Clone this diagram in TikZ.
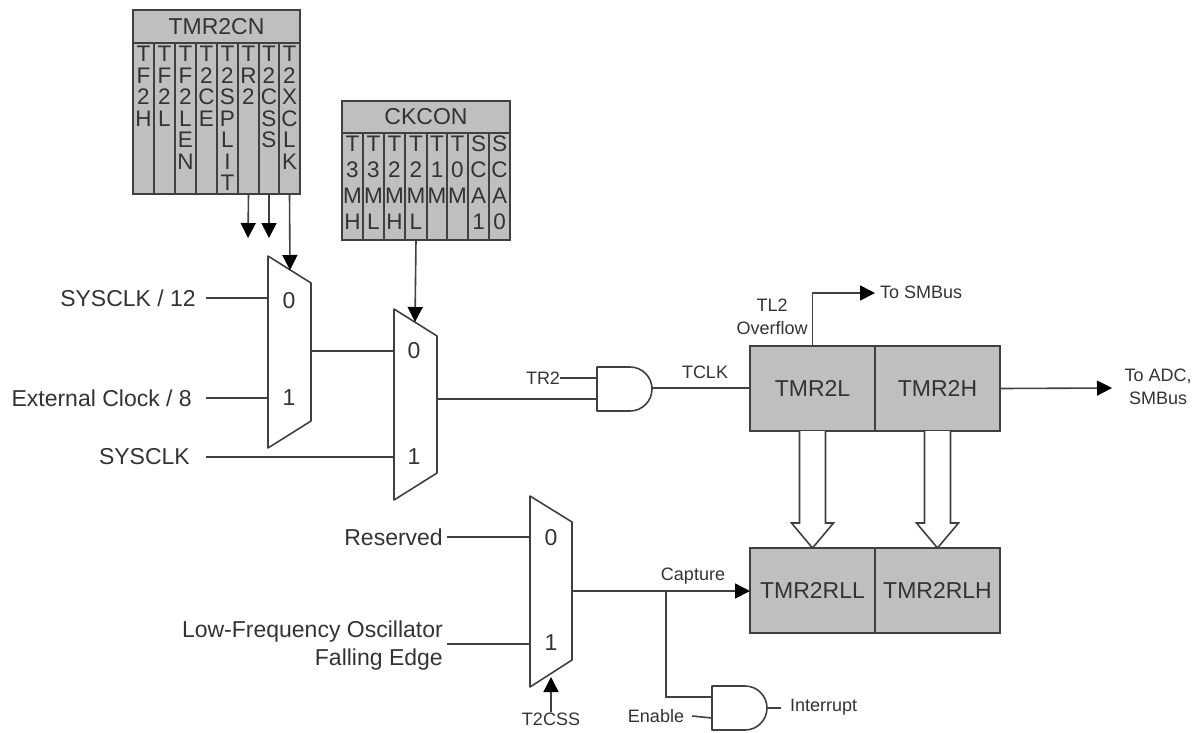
\documentclass[tikz,border=0pt]{standalone}
\usepackage{fontspec}
\setmainfont{Liberation Sans}
\usetikzlibrary{arrows.meta,calc}
\definecolor{ln}{HTML}{404040}
\definecolor{tx}{HTML}{333333}
\definecolor{bx}{HTML}{BFBFBF}
\tikzset{
  wire/.style={draw=ln,line width=1.6pt},
  arr/.style={wire,-{Triangle[length=15pt,width=15pt,color=black]}},
  shapeline/.style={draw=ln,line width=1.6pt,line join=round},
  regbox/.style={draw=ln,line width=1.6pt,fill=bx,text=tx,inner sep=0pt,outer sep=0pt},
  big/.style={font=\fontsize{23}{26}\selectfont,text=tx,inner sep=0pt},
  small/.style={font=\fontsize{18}{23}\selectfont,text=tx,inner sep=0pt,align=center},
  hollow/.style={draw=ln,line width=1.6pt,fill=white,line join=miter},
}
% \regcol{name}{x1}{x2}{ytop}{ybot}{lineskip}{letters}
\newcommand{\regcol}[7]{%
  \node[regbox,anchor=north west,minimum width=#3-#2,minimum height=#5-#4] (#1) at (#2,#4) {};
  \node[big,anchor=north,align=center,font=\fontsize{22.5}{#6}\selectfont] (#1t) at ($(#1.north)+(0,3)$) {#7};
}
\begin{document}
\begin{tikzpicture}[x=1pt,y=-1pt]
\useasboundingbox (0,0) rectangle (1193,732);
% TMR2CN
\node[regbox,big,anchor=north west,minimum width=167pt,minimum height=33pt] (tcn) at (133,10) {TMR2CN};
\regcol{a1}{133}{154}{43}{194}{21.5}{T\\F\\2\\H}
\regcol{a2}{154}{175}{43}{194}{21.5}{T\\F\\2\\L}
\regcol{a3}{175}{196}{43}{194}{21.5}{T\\F\\2\\L\\E\\N}
\regcol{a4}{196}{217}{43}{194}{21.5}{T\\2\\C\\E}
\regcol{a5}{217}{238}{43}{194}{21.5}{T\\2\\S\\P\\L\\I\\T}
\regcol{a6}{238}{259}{43}{194}{21.5}{T\\R\\2}
\regcol{a7}{259}{279}{43}{194}{21.5}{T\\2\\C\\S\\S}
\regcol{a8}{279}{300}{43}{194}{21.5}{T\\2\\X\\C\\L\\K}
% CKCON
\node[regbox,big,anchor=north west,minimum width=168pt,minimum height=32pt] (ck) at (342,101) {CKCON};
\regcol{b1}{342}{363}{133}{240}{26}{T\\3\\M\\H}
\regcol{b2}{363}{384}{133}{240}{26}{T\\3\\M\\L}
\regcol{b3}{384}{405}{133}{240}{26}{T\\2\\M\\H}
\regcol{b4}{405}{427}{133}{240}{26}{T\\2\\M\\L}
\regcol{b5}{427}{447}{133}{240}{26}{T\\1\\M}
\regcol{b6}{447}{468}{133}{240}{26}{T\\0\\M}
\regcol{b7}{468}{489}{133}{240}{26}{S\\C\\A\\1}
\regcol{b8}{489}{510}{133}{240}{26}{S\\C\\A\\0}
% Timer boxes
\node[regbox,big,anchor=north west,minimum width=125pt,minimum height=85pt] (tl) at (750,346) {TMR2L};
\node[regbox,big,anchor=north west,minimum width=125pt,minimum height=85pt] (th) at (875,346) {TMR2H};
\node[regbox,big,anchor=north west,minimum width=125pt,minimum height=85pt] (rl) at (750,548) {TMR2RLL};
\node[regbox,big,anchor=north west,minimum width=125pt,minimum height=85pt] (rh) at (875,548) {TMR2RLH};
% Muxes
\draw[shapeline] (268,256) -- (311,283) -- (311,421) -- (268,448) -- cycle;
\draw[shapeline] (394,309) -- (437,336) -- (437,473) -- (394,500) -- cycle;
\draw[shapeline] (530,496) -- (572,522) -- (572,660) -- (530,687) -- cycle;
\node[big] (m10) at (289,301) {0};
\node[big] (m11) at (289,398) {1};
\node[big] (m20) at (414,351) {0};
\node[big] (m21) at (414,457) {1};
\node[big] (m30) at (551,538) {0};
\node[big] (m31) at (551,643) {1};
% AND gates
\draw[shapeline] (597,367) -- (630,367) arc[start angle=-90,end angle=90,radius=22] -- (597,411) -- cycle;
\draw[shapeline] (712,686) -- (745,686) arc[start angle=-90,end angle=90,radius=22] -- (712,730) -- cycle;
% Coordinates
\coordinate (m1top) at (290,270);
\coordinate (m2top) at (415,322);
\coordinate (m3bot) at (551,677);
\coordinate (in1) at (268,298);
\coordinate (in2) at (268,398);
\coordinate (in3) at (394,457);
\coordinate (in4) at (530,537);
\coordinate (in5) at (530,644);
\coordinate (m1o) at (311,351);
\coordinate (m2a) at (394,351);
\coordinate (m2o) at (437,399);
\coordinate (g1b) at (597,399);
\coordinate (g1a) at (597,378);
\coordinate (g1o) at (652,388);
\coordinate (m3o) at (572,591);
\coordinate (jn) at (666,591);
\coordinate (g2a) at (712,697);
\coordinate (g2b) at (712,718);
\coordinate (g2o) at (767,708);
\coordinate (g2e) at (781,708);
\coordinate (s1) at (248,238);
\coordinate (s2) at (269,238);
\coordinate (smb) at (875,293);
\coordinate (adc) at (1112,388);
% Labels
\node[big,anchor=east] (l1) at (196,298) {SYSCLK / 12};
\node[big,anchor=east] (l2) at (192,398) {External Clock / 8};
\node[big,anchor=east] (l3) at (190,457) {SYSCLK};
\node[big,anchor=east] (l4) at (443,537) {Reserved};
\node[big,anchor=east,align=right,font=\fontsize{23}{28}\selectfont] (l5) at (443,646) {Low-Frequency Oscillator\\Falling Edge};
\node[small] (tr) at (543,378) {TR2};
\node[small] (tc) at (705,372) {TCLK};
\node[small] (ov) at (772,317) {TL2\\Overflow};
\node[small,anchor=west] (ts) at (880,292) {To SMBus};
\node[small] (ta) at (1158,387) {To ADC,\\SMBus};
\node[small] (cp) at (693,576) {Capture};
\node[small] (t2) at (551,719) {T2CSS};
\node[small] (en) at (656,716) {Enable};
\node[small,anchor=west] (ir) at (790,707) {Interrupt};
% Connectors
\draw[arr] (a6.south) -- (s1);
\draw[arr] (a7.south) -- (s2);
\draw[arr] (a8.south) -- (m1top);
\draw[arr] (b4.south) -- (m2top);
\draw[wire] (l1.east)++(10,0) -- (in1);
\draw[wire] (l2.east)++(14,0) -- (in2);
\draw[wire] (l3.east)++(16,0) -- (in3);
\draw[wire] (m1o) -- (m2a);
\draw[wire] (m2o) -- (g1b);
\draw[wire] (tr.east) -- (g1a);
\draw[wire] (g1o) -- (tl.west |- g1o);
\draw[arr] (tl.north) -- (tl.north |- smb) -- (smb);
\draw[arr] (th.east) -- (adc);
\draw[wire] (l4.east)++(4,0) -- (in4);
\draw[wire] (in5 -| l5.east)++(4,0) -- (in5);
\draw[arr] (m3o) -- (rl.west |- m3o);
\draw[wire] (jn) -- (jn |- g2a) -- (g2a);
\draw[wire] (en.east)++(8,0) -- (g2b);
\draw[wire] (g2o) -- (g2e);
\draw[arr] (t2.north) -- (m3bot);
% Hollow arrows
\foreach \n/\m in {tl/rl,th/rh}{
  \draw[hollow] ($(\n.south)+(-13,0)$) -- ($(\n.south)+(-13,92)$) -- ($(\n.south)+(-21,92)$) -- (\m.north)
     -- ($(\n.south)+(21,92)$) -- ($(\n.south)+(13,92)$) -- ($(\n.south)+(13,0)$);
}
\end{tikzpicture}
\end{document}
